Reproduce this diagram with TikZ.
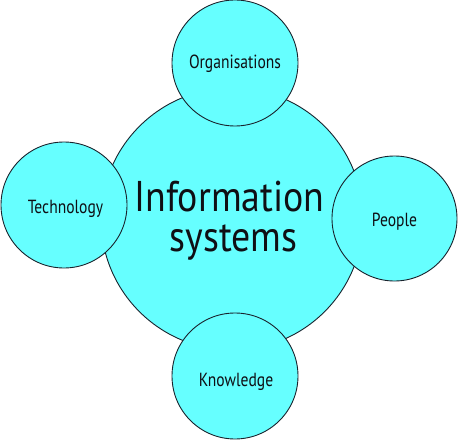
\documentclass[tikz,border=0pt]{standalone}
\usepackage{fontspec}
\setmainfont{PT Sans}[FakeStretch=0.88]
\newfontfamily\smallfam{PT Sans}[FakeStretch=0.82]
\definecolor{cyanfill}{RGB}{102,255,255}
\definecolor{edgecol}{RGB}{25,35,45}
\definecolor{textcol}{RGB}{15,15,20}
\begin{document}
\begin{tikzpicture}[x=1pt,y=1pt,
  bubble/.style={circle,draw=edgecol,fill=cyanfill,line width=0.9pt,inner sep=0pt,minimum size=#1},
  smalltext/.style={text=textcol,font=\smallfam\fontsize{19}{22}\selectfont,anchor=base},
  bigtext/.style={text=textcol,font=\fontsize{43}{48}\selectfont,anchor=base}]
\useasboundingbox (0,0) rectangle (458,440);
\node[bubble=262pt] (is) at (232,221) {};
\node[bubble=126pt] (org) at (235,377) {};
\node[bubble=126pt] (tech) at (64,235) {};
\node[bubble=125pt] (peo) at (394.5,221.5) {};
\node[bubble=126pt] (know) at (235,64) {};
\node[bigtext] (l1) at (229.5,229) {Information};
\node[bigtext] (l2) at (233.5,189) {systems};
\node[smalltext] (lorg) at (235,371.7) {Organisations};
\node[smalltext] (ltech) at (65.5,227) {Technology};
\node[smalltext] (lpeo) at (394.5,214) {People};
\node[smalltext] (lknow) at (236,53.3) {Knowledge};
\end{tikzpicture}
\end{document}
